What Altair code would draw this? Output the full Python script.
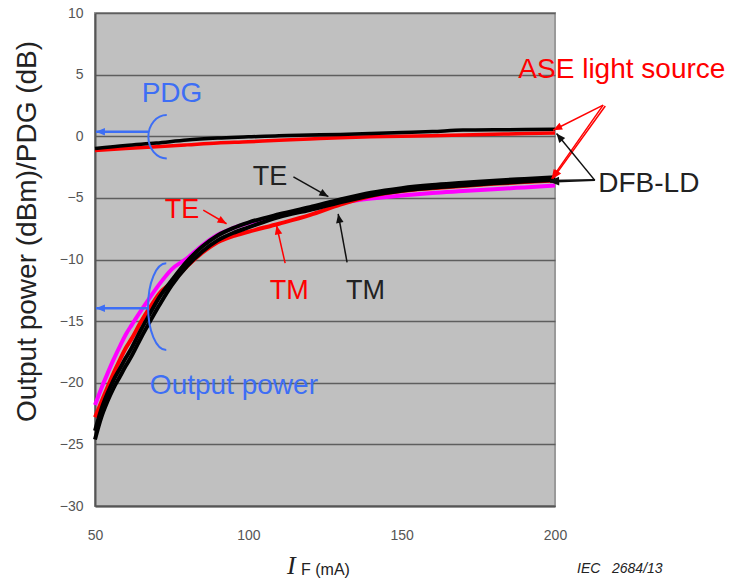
import math
import altair as alt
import pandas as pd

# ---------------- data ----------------
current = [50, 52, 54, 56, 58, 60, 62, 65, 68, 71, 75, 80, 85, 90, 95, 100,
           110, 120, 130, 140, 150, 160, 170, 180, 190, 200]
dfb_te = [-23.9, -22.2, -20.9, -19.8, -18.9, -18.0, -17.15, -15.7, -14.35, -13.05,
          -11.7, -10.15, -8.95, -8.05, -7.45, -7.0, -6.33, -5.76, -5.13, -4.58,
          -4.21, -3.96, -3.78, -3.6, -3.46, -3.33]
dfb_tm = [-24.6, -22.85, -21.55, -20.45, -19.55, -18.65, -17.8, -16.35, -15.0, -13.7,
          -12.1, -10.55, -9.35, -8.45, -7.85, -7.4, -6.55, -5.98, -5.35, -4.8,
          -4.43, -4.18, -4.0, -3.82, -3.68, -3.55]
ase_te = [-21.8, -20.5, -19.3, -18.15, -17.1, -16.1, -15.3, -14.15, -13.05, -12.0,
          -10.8, -9.9, -8.85, -8.0, -7.45, -7.05, -6.4, -5.9, -5.4, -5.05,
          -4.8, -4.6, -4.45, -4.3, -4.15, -4.0]
ase_tm = [-22.8, -21.6, -20.4, -19.25, -18.2, -17.2, -16.4, -15.05, -13.85, -12.75,
          -11.85, -10.55, -9.45, -8.6, -8.1, -7.75, -7.1, -6.4, -5.55, -4.85,
          -4.45, -4.22, -4.03, -3.86, -3.72, -3.6]

pdg_current = [50, 60, 70, 80, 90, 100, 110, 120, 130, 140, 150, 160, 170, 180, 190, 200]
pdg_dfb = [-1.0, -0.75, -0.55, -0.3, -0.15, -0.05, 0.05, 0.1, 0.15, 0.22,
           0.3, 0.38, 0.5, 0.52, 0.55, 0.57]
pdg_ase = [-1.15, -1.0, -0.85, -0.7, -0.55, -0.45, -0.32, -0.22, -0.12, -0.05,
           0.0, 0.05, 0.1, 0.16, 0.22, 0.27]

# annotations (data coordinates)
label_text = ["PDG", "Output power", "TE", "TE", "TM", "TM", "ASE light source", "DFB-LD"]
label_x = [75.1, 95.3, 78.4, 107.1, 113.3, 138.2, 221.8, 230.6]
label_y = [2.76, -20.9, -6.67, -3.98, -13.2, -13.2, 4.69, -4.53]
label_color = ["#3D6EF5", "#3D6EF5", "#FF0000", "#222222", "#FF0000", "#222222", "#FF0000", "#222222"]
label_size = [28, 28, 27, 27, 27, 27, 28, 28]

arrow_x0 = [67.3, 67.3, 85.3, 114.7, 112.0, 132.2, 215.7, 215.7, 216.4, 213.0, 213.0, 213.0]
arrow_y0 = [0.37, -13.96, -6.0, -3.3, -10.3, -10.24, 2.52, 2.52, 2.45, -3.58, -3.58, -3.52]
arrow_x1 = [50.3, 50.3, 92.9, 126.1, 109.2, 129.3, 199.4, 198.9, 199.3, 200.5, 198.4, 198.4]
arrow_y1 = [0.37, -13.96, -7.1, -4.9, -7.24, -6.3, 0.49, -3.44, -3.44, 0.22, -3.72, -3.6]
arrow_color = ["#3D6EF5", "#3D6EF5", "#FF0000", "#111111", "#FF0000", "#111111",
               "#FF0000", "#FF0000", "#FF0000", "#111111", "#111111", "#111111"]
arrow_width = [2.5, 2.5, 1.5, 1.5, 1.5, 1.5, 1.5, 1.5, 1.5, 1.5, 1.5, 1.5]

bracket_x = [67.4, 67.3]
bracket_y = [-0.04, -13.83]

# ---------------- layout ----------------
W, H = 460, 493
X_DOM, Y_DOM = [50, 200], [-30, 10]
PX_X = W / (X_DOM[1] - X_DOM[0])
PX_Y = H / (Y_DOM[1] - Y_DOM[0])

curves = pd.concat([
    pd.DataFrame({"I": current, "P": ase_te, "s": "ASE TE"}),
    pd.DataFrame({"I": current, "P": ase_tm, "s": "ASE TM"}),
    pd.DataFrame({"I": current, "P": dfb_tm, "s": "DFB TM"}),
    pd.DataFrame({"I": current, "P": dfb_te, "s": "DFB TE"}),
    pd.DataFrame({"I": pdg_current, "P": pdg_ase, "s": "PDG ASE"}),
    pd.DataFrame({"I": pdg_current, "P": pdg_dfb, "s": "PDG DFB"}),
])

xs = alt.Scale(domain=X_DOM, nice=False, zero=False)
ys = alt.Scale(domain=Y_DOM, nice=False, zero=False)

x_axis = alt.Axis(values=[50, 100, 150, 200], ticks=False, grid=False, labelPadding=22,
                  labelFlush=False,
                  labelFontSize=14, labelColor="#555555", labelFont="Liberation Sans",
                  domainColor="#555555", domainWidth=2, title=None)
y_axis = alt.Axis(values=list(range(-30, 11, 5)), ticks=False, grid=True,
                  gridColor="#5e5e5e", gridWidth=1.5, labelPadding=12, labelFlush=False,
                  labelFontSize=14, labelColor="#555555", labelFont="Liberation Sans",
                  domainColor="#555555", domainWidth=2,
                  title="Output power (dBm)/PDG (dB)", titleFontSize=28,
                  titleFontWeight="normal", titleColor="#222222", titleFont="Liberation Sans",
                  titleX=-68, titleY=218, titleBaseline="middle", titleAlign="center")

base_axes = alt.Chart(curves).mark_line(opacity=0).encode(
    x=alt.X("I:Q", scale=xs, axis=x_axis),
    y=alt.Y("P:Q", scale=ys, axis=y_axis),
    detail="s:N",
)

def curve(series, color, width):
    return alt.Chart(curves).transform_filter(alt.datum.s == series).mark_line(
        color=color, strokeWidth=width, interpolate="monotone"
    ).encode(x=alt.X("I:Q", scale=xs), y=alt.Y("P:Q", scale=ys))

lines = [
    curve("ASE TE", "#FF00FF", 4),
    curve("ASE TM", "#FF0000", 4),
    curve("DFB TM", "#000000", 4),
    curve("DFB TE", "#000000", 4),
    curve("PDG ASE", "#FF0000", 3.5),
    curve("PDG DFB", "#000000", 3.5),
]

arr = pd.DataFrame({"x0": arrow_x0, "y0": arrow_y0, "x1": arrow_x1, "y1": arrow_y1,
                    "c": arrow_color, "w": arrow_width})
arr["ang"] = [
    math.degrees(math.atan2((b - a) * PX_X, (d - c) * PX_Y)) % 360
    for a, b, c, d in zip(arr.x0, arr.x1, arr.y0, arr.y1)
]

arrow_lines = alt.Chart(arr).mark_rule().encode(
    x=alt.X("x0:Q", scale=xs), y=alt.Y("y0:Q", scale=ys),
    x2="x1:Q", y2="y1:Q",
    color=alt.Color("c:N", scale=None),
    strokeWidth=alt.StrokeWidth("w:Q", scale=None),
)
arrow_heads = alt.Chart(arr).mark_point(
    shape="M 0 0 L -0.42 1 L 0.42 1 Z", filled=True, size=324, opacity=1, strokeWidth=0
).encode(
    x=alt.X("x1:Q", scale=xs), y=alt.Y("y1:Q", scale=ys),
    color=alt.Color("c:N", scale=None),
    angle=alt.Angle("ang:Q", scale=None),
)

br = pd.DataFrame({"x": bracket_x[:1], "y": bracket_y[:1]})
br2 = pd.DataFrame({"x": bracket_x[1:], "y": bracket_y[1:]})
bracket1 = alt.Chart(br).mark_point(
    shape="M 0.85 -1 A 0.85 1 0 0 0 0.85 1", filled=False, size=43.3 ** 2,
    stroke="#3D6EF5", strokeWidth=2, opacity=1
).encode(x=alt.X("x:Q", scale=xs), y=alt.Y("y:Q", scale=ys))
bracket2 = alt.Chart(br2).mark_point(
    shape="M 0.42 -1 A 0.42 1 0 0 0 0.42 1", filled=False, size=86.7 ** 2,
    stroke="#3D6EF5", strokeWidth=2, opacity=1
).encode(x=alt.X("x:Q", scale=xs), y=alt.Y("y:Q", scale=ys))

lab = pd.DataFrame({"t": label_text, "x": label_x, "y": label_y,
                    "c": label_color, "fs": label_size})
labels = alt.Chart(lab).mark_text(
    align="center", baseline="alphabetic", font="Liberation Sans"
).encode(
    x=alt.X("x:Q", scale=xs), y=alt.Y("y:Q", scale=ys), text="t:N",
    color=alt.Color("c:N", scale=None), size=alt.Size("fs:Q", scale=None),
)

title_i = alt.Chart(pd.DataFrame({"t": ["I"]})).mark_text(
    font="Liberation Serif", fontStyle="italic", fontSize=26, align="left",
    baseline="alphabetic", color="#222222"
).encode(x=alt.value(192), y=alt.value(561), text="t:N")
title_f = alt.Chart(pd.DataFrame({"t": ["F (mA)"]})).mark_text(
    font="Liberation Sans", fontSize=16, align="left", baseline="alphabetic", color="#222222"
).encode(x=alt.value(206), y=alt.value(562), text="t:N")
iec = alt.Chart(pd.DataFrame({"t": ["IEC\u00a0\u00a0\u00a02684/13"]})).mark_text(
    font="Liberation Sans", fontStyle="italic", fontSize=14, align="left",
    baseline="alphabetic", color="#222222"
).encode(x=alt.value(482), y=alt.value(560), text="t:N")

chart = alt.layer(
    base_axes, *lines, arrow_lines, arrow_heads, bracket1, bracket2, labels,
    title_i, title_f, iec
).properties(
    width=W, height=H,
    autosize=alt.AutoSizeParams(type="none"),
    padding={"left": 95, "top": 13, "right": 174, "bottom": 77},
    background="white",
).configure_view(fill="#C0C0C0", stroke="#9a9a9a", strokeWidth=2)

chart.save("out.html", embed_options={"renderer": "svg", "actions": False})
